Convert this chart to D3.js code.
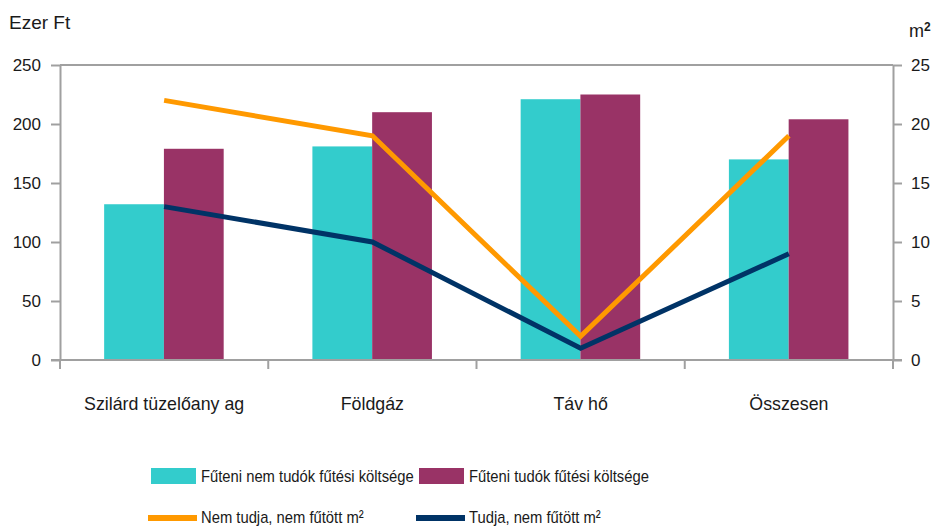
<!DOCTYPE html>
<html>
<head>
<meta charset="utf-8">
<script src="https://cdn.jsdelivr.net/npm/d3@7"></script>
<style>
  body { margin: 0; background: #fff; }
  text { font-family: "Liberation Sans", Arial, sans-serif; fill: #1a1a1a; }
</style>
</head>
<body>
<svg id="chart" width="936" height="528"></svg>
<script>
// categories and series
var categories = ["Szilárd tüzelőany ag", "Földgáz", "Táv hő", "Összesen"];
var barKeys = ["Fűteni nem tudók fűtési költsége", "Fűteni tudók fűtési költsége"];
var costNotHeating = [132, 181, 221, 170];
var costHeating = [179, 210, 225, 204];
var lineKeys = ["Nem tudja, nem fűtött m²", "Tudja, nem fűtött m²"];
var areaNotKnow = [22, 19, 2, 19];
var areaKnow = [13, 10, 1, 9];
var leftTicks = [0, 50, 100, 150, 200, 250];
var rightTicks = [0, 5, 10, 15, 20, 25];

var barColours = ["#33CCCC", "#993366"];
var lineColours = ["#FF9900", "#003366"];
var axisGrey = "#a0a0a0";

var svg = d3.select("#chart"),
    margin = {top: 65, left: 60, right: 43, bottom: 168},
    width = +svg.attr("width") - margin.left - margin.right,
    height = +svg.attr("height") - margin.top - margin.bottom;

var chart = svg.append("g").attr("transform", "translate(" + margin.left + "," + margin.top + ")");

var x0 = d3.scaleBand().domain(categories).range([0, width]).padding(0);
var x1 = d3.scaleBand().domain(barKeys)
    .range([x0.bandwidth() * 0.212, x0.bandwidth() * 0.786]).padding(0);
var y = d3.scaleLinear().domain([0, 250]).range([height, 0]);
var y2 = d3.scaleLinear().domain([0, 25]).range([height, 0]);

var barData = categories.map(function(c, i) {
    return {cat: c, values: [costNotHeating[i], costHeating[i]]};
});

// bars
chart.append("g").selectAll("g")
    .data(barData)
    .enter().append("g")
    .attr("transform", function(d) { return "translate(" + x0(d.cat) + ",0)"; })
    .selectAll("rect")
    .data(function(d) { return d.values.map(function(v, k) { return {key: barKeys[k], value: v, k: k}; }); })
    .enter().append("rect")
    .attr("x", function(d) { return x1(d.key); })
    .attr("y", function(d) { return y(d.value); })
    .attr("width", x1.bandwidth())
    .attr("height", function(d) { return height - y(d.value); })
    .attr("fill", function(d) { return barColours[d.k]; });

// frame top line
chart.append("line")
    .attr("x1", 0).attr("x2", width)
    .attr("y1", 0).attr("y2", 0)
    .attr("stroke", axisGrey).attr("stroke-width", 2);

// left axis
var leftAxis = chart.append("g")
    .call(d3.axisLeft(y).tickValues(leftTicks).tickSize(9).tickSizeOuter(0).tickPadding(10));
// right axis
var rightAxis = chart.append("g")
    .attr("transform", "translate(" + width + ",0)")
    .call(d3.axisRight(y2).tickValues(rightTicks).tickSize(9).tickSizeOuter(0).tickPadding(9));
// bottom axis
var bottomAxis = chart.append("g")
    .attr("transform", "translate(0," + height + ")")
    .call(d3.axisBottom(x0).tickSize(0).tickPadding(37));

// category separator ticks
chart.append("g").selectAll("line")
    .data(d3.range(categories.length + 1))
    .enter().append("line")
    .attr("x1", function(i) { return i * x0.step(); })
    .attr("x2", function(i) { return i * x0.step(); })
    .attr("y1", height).attr("y2", height + 9)
    .attr("stroke", axisGrey).attr("stroke-width", 2);

chart.append("line")
    .attr("x1", -9).attr("x2", width + 9)
    .attr("y1", height).attr("y2", height)
    .attr("stroke", axisGrey).attr("stroke-width", 2);

[leftAxis, rightAxis, bottomAxis].forEach(function(a) {
    a.select(".domain").attr("stroke", axisGrey).attr("stroke-width", 2);
    a.selectAll(".tick line").attr("stroke", axisGrey).attr("stroke-width", 2);
    a.selectAll(".tick text").attr("fill", "#1a1a1a").style("font-size", "17px")
        .attr("font-family", "Liberation Sans, Arial, sans-serif");
});
bottomAxis.selectAll(".tick text").style("font-size", "17.8px");
bottomAxis.select(".domain").remove();

// lines
var lineGen = d3.line()
    .x(function(d, i) { return x0(categories[i]) + x0.bandwidth() / 2; })
    .y(function(d) { return y2(d); });

[areaNotKnow, areaKnow].forEach(function(series, k) {
    chart.append("path")
        .datum(series)
        .attr("fill", "none")
        .attr("stroke", lineColours[k])
        .attr("stroke-width", 5)
        .attr("d", lineGen);
});

// axis titles
svg.append("text").attr("x", 9).attr("y", 29).style("font-size", "19px").text("Ezer Ft");
var m2 = svg.append("text").attr("x", 909).attr("y", 37).style("font-size", "18px");
m2.append("tspan").text("m");
m2.append("tspan").attr("dy", -6).style("font-size", "12px").style("font-weight", "bold").text("2");

// legend
var legendX = [151, 419];
var legend = svg.append("g");
function legendText(x, yPos, label) {
    legend.append("text")
        .attr("transform", "translate(" + x + "," + yPos + ") scale(0.87,1)")
        .style("font-size", "17px").text(label);
}
barKeys.forEach(function(k, i) {
    legend.append("rect")
        .attr("x", legendX[i]).attr("y", 468)
        .attr("width", 45).attr("height", 16)
        .attr("fill", barColours[i]);
    legendText(legendX[i] + 50, 482, k);
});
lineKeys.forEach(function(k, i) {
    legend.append("line")
        .attr("x1", legendX[i] - 3).attr("x2", legendX[i] + 46)
        .attr("y1", 518).attr("y2", 518)
        .attr("stroke", lineColours[i]).attr("stroke-width", 6);
    legendText(legendX[i] + 50, 523, k);
});
</script>
</body>
</html>
